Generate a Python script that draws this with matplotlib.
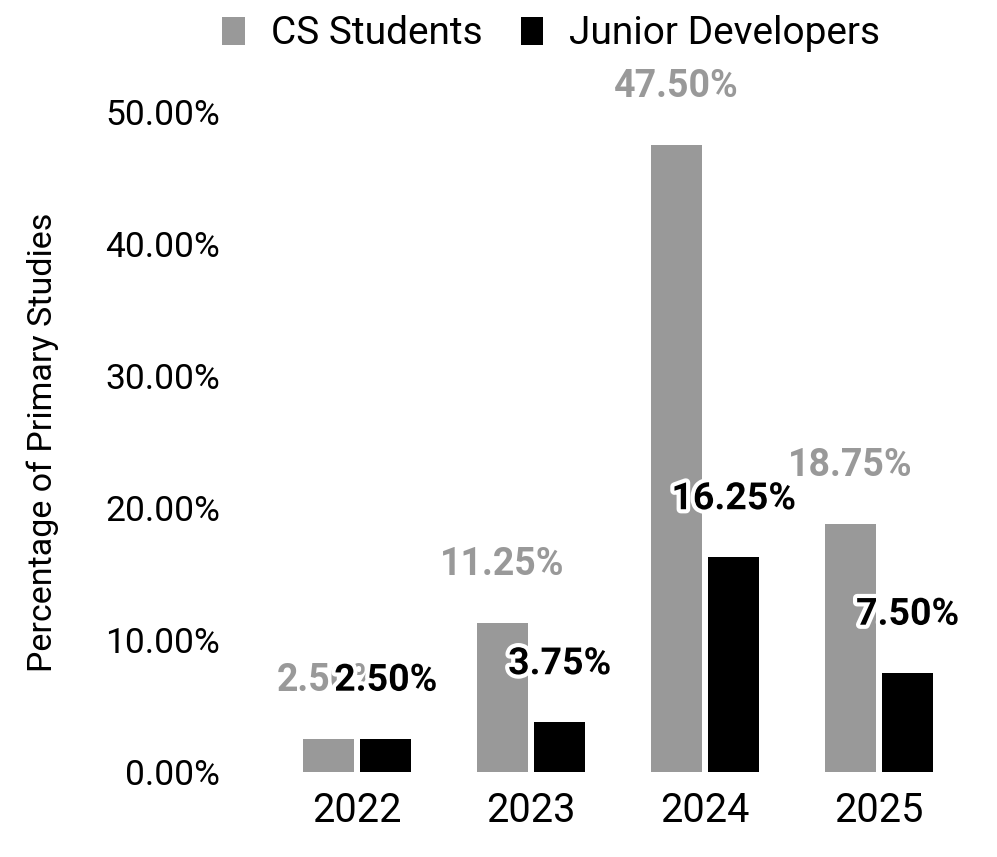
import matplotlib
matplotlib.use('Agg')
import matplotlib.pyplot as plt
import matplotlib.patheffects as pe
import numpy as np

plt.rcParams['font.family'] = ['Roboto', 'DejaVu Sans']

years = ['2022', '2023', '2024', '2025']
cs_students = [2.50, 11.25, 47.50, 18.75]
junior_devs = [2.50, 3.75, 16.25, 7.50]
yticks = [0, 10, 20, 30, 40, 50]

grey = '#999999'
black = '#000000'

fig = plt.figure(figsize=(9.97, 8.57), dpi=100)
ax = fig.add_axes([0.2708, 0.0992, 0.698, 0.7701])

x = np.arange(len(years))
w = 0.295
off = 0.165
b1 = ax.bar(x - off, cs_students, w, color=grey, label='CS Students')
b2 = ax.bar(x + off, junior_devs, w, color=black, label='Junior Developers')

# etiquetas
for xi, v in zip(x, cs_students):
    ax.annotate('%.2f%%' % v, (xi - off, v), xytext=(0, 29), textcoords='offset points',
                ha='center', va='bottom', fontsize=27, fontweight='bold', color=grey,
                annotation_clip=False)
for xi, v in zip(x, junior_devs):
    ax.annotate('%.2f%%' % v, (xi + off, v), xytext=(0, 29), textcoords='offset points',
                ha='center', va='bottom', fontsize=27, fontweight='bold', color=black,
                annotation_clip=False,
                path_effects=[pe.withStroke(linewidth=6, foreground='white')])

ax.set_xlim(-0.5, 3.5)
ax.set_ylim(0, 50)
ax.set_xticks(x)
ax.set_xticklabels(years, fontsize=28.5)
ax.set_yticks(yticks)
ax.set_yticklabels(['%.2f%%' % t for t in yticks], fontsize=25.5)
ax.tick_params(length=0)
ax.tick_params(axis='y', pad=36)
ax.tick_params(axis='x', pad=14)
for s in ax.spines.values():
    s.set_visible(False)
ax.set_ylabel('Percentage of Primary Studies', fontsize=24.5, labelpad=33)

fig.legend(handles=[b1, b2], loc='upper center', bbox_to_anchor=(0.553, 1.023), ncol=2,
           frameon=False, fontsize=28, handlelength=0.57, handleheight=0.72,
           handletextpad=0.67, columnspacing=1.0)

plt.savefig('out.png', dpi=100)
